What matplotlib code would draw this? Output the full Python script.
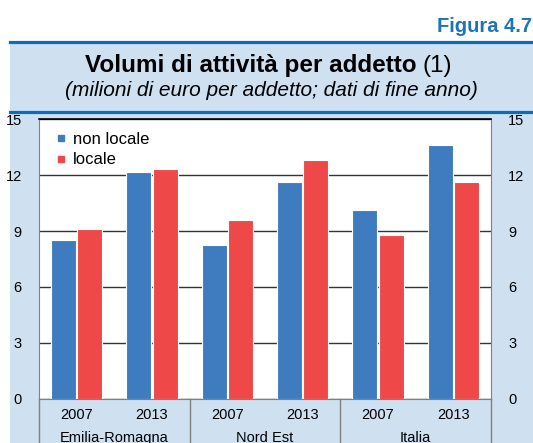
import numpy as np
import matplotlib
matplotlib.use('Agg')
import matplotlib.pyplot as plt
from matplotlib.patches import Rectangle
from matplotlib.lines import Line2D
import matplotlib.transforms as mtransforms

plt.rcParams['font.family'] = ['Liberation Sans', 'DejaVu Sans']

# dati
aree = ['Emilia-Romagna', 'Nord Est', 'Italia']
anni = ['2007', '2013', '2007', '2013', '2007', '2013']
non_locale = [8.52, 12.17, 8.27, 11.62, 10.11, 13.64]
locale = [9.10, 12.31, 9.59, 12.81, 8.79, 11.63]
y_ticks = [0, 3, 6, 9, 12, 15]

BLU = '#3f7cbf'
ROSSO = '#ef4849'
SFONDO = '#cfe0f1'
BLU_SCURO = '#0a6eb4'

W, H = 533, 443
fig = plt.figure(figsize=(W / 100, H / 100), dpi=100)

# pannello azzurro e righe blu
fig.add_artist(Rectangle((10 / W, 0), 1 - 10 / W, (H - 42) / H,
                         transform=fig.transFigure, facecolor=SFONDO,
                         edgecolor='none', zorder=0))
fig.add_artist(Line2D([10 / W, 1], [(H - 41.7) / H] * 2,
                      transform=fig.transFigure, color=BLU_SCURO, lw=2.3))
fig.add_artist(Line2D([10 / W, 1], [(H - 112.3) / H] * 2,
                      transform=fig.transFigure, color=BLU_SCURO, lw=2.3))

fig.text(0.998, (H - 31.6) / H, 'Figura 4.7', ha='right', va='baseline',
         fontsize=14.5, fontweight='bold', color='#1f73b7')
fig.text(417 / W, (H - 72.4) / H, 'Volumi di attività per addetto',
         ha='right', va='baseline', fontsize=17.5, fontweight='bold')
fig.text(423 / W, (H - 72.4) / H, '(1)', ha='left', va='baseline',
         fontsize=17.5)
fig.text(271 / W, (H - 96.3) / H,
         '(milioni di euro per addetto; dati di fine anno)',
         ha='center', va='baseline', fontsize=15, fontstyle='italic')

ax = fig.add_axes([39 / W, (H - 398.6) / H, 452 / W, 279.3 / H])
ax.set_facecolor('white')

x = np.arange(len(anni))
w = 0.33
ax.bar(x - 0.175, non_locale, w, color=BLU, edgecolor='white', lw=0.8, zorder=3)
ax.bar(x + 0.175, locale, w, color=ROSSO, edgecolor='white', lw=0.8, zorder=3)

ax.set_xlim(-0.5, 5.5)
ax.set_ylim(0, 15)
ax.set_yticks(y_ticks)
ax.yaxis.grid(True, color='#333333', lw=1)
ax.set_axisbelow(True)
ax.tick_params(axis='y', which='both', left=False, right=False,
               labelleft=True, labelright=True, labelsize=10.5, pad=9)
ax.set_xticks(x)
ax.set_xticklabels(anni)
ax.tick_params(axis='x', length=0, labelsize=10.5, pad=7)

for s in ['left', 'right', 'bottom']:
    ax.spines[s].set_color('#808080')
ax.spines['top'].set_color('black')
ax.spines['top'].set_linewidth(1.2)

trans = mtransforms.blended_transform_factory(ax.transData, ax.transAxes)
for b in [-0.5, 1.5, 3.5, 5.5]:
    ax.plot([b, b], [0, -0.2], transform=trans, color='#808080', lw=1,
            clip_on=False)
for i, nome in enumerate(aree):
    ax.text(2 * i + 0.5, -0.115, nome, transform=trans, ha='center', va='top',
            fontsize=10.5)

handles = [Line2D([], [], ls='none', marker='s', ms=4, color=BLU),
           Line2D([], [], ls='none', marker='s', ms=4, color=ROSSO)]
ax.legend(handles, ['non locale', 'locale'], loc='upper left',
          bbox_to_anchor=(0.005, 1.01), frameon=False, fontsize=12,
          handlelength=0.6, handletextpad=0.4, labelspacing=0.35)

fig.savefig('out.png', dpi=100)
